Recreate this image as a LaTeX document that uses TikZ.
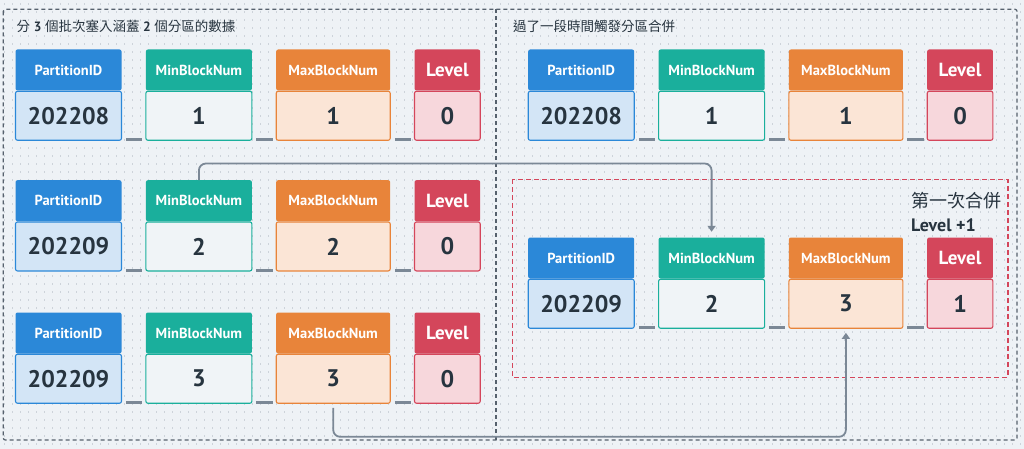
\documentclass[tikz,border=0pt]{standalone}
\usepackage{fontspec}
\setmainfont{PT Sans}
\newfontfamily\cjk{Noto Sans CJK TC}
\usetikzlibrary{arrows.meta}
\definecolor{bg}{HTML}{EEF2F6}
\definecolor{dotc}{HTML}{CDD3DA}
\definecolor{txt}{HTML}{27343F}
\definecolor{lgray}{HTML}{7B8896}
\definecolor{dgray}{HTML}{56616D}
\definecolor{bmain}{HTML}{2B88D8}\definecolor{blight}{HTML}{D3E5F6}
\definecolor{tmain}{HTML}{1AAF9C}\definecolor{tlight}{HTML}{F0F4F7}
\definecolor{omain}{HTML}{E8843A}\definecolor{olight}{HTML}{FBE5D6}
\definecolor{rmain}{HTML}{D4465B}\definecolor{rlight}{HTML}{F7D7DC}
\tikzset{
  hdr/.style={fill=#1main, minimum height=41pt, inner sep=0pt, rounded corners=2pt, text=white,
    font=\bfseries\fontsize{14.5}{16}\selectfont},
  val/.style={fill=#1light, draw=#1main, line width=1.1pt, minimum height=49pt, inner sep=0pt,
    rounded corners=2pt, text=txt, font=\bfseries\fontsize{24}{28}\selectfont},
  sep/.style={lgray, line width=3pt},
  flow/.style={lgray, line width=1.8pt, rounded corners=7pt, -{Triangle[length=6pt,width=8pt]}},
  frame/.style={dgray, line width=1.2pt, dash pattern=on 4pt off 3pt},
  redframe/.style={rmain, line width=1.6pt, dash pattern=on 5pt off 3pt}
}
\newcommand\cellpair[7]{%
  \node[hdr=#5, minimum width=#4pt, anchor=north west] (#1h) at (#2,#3) {#6};
  \node[val=#5, minimum width=#4pt, anchor=north] (#1v) at (#1h.south) {#7};
}
\newcommand\rowcells[8]{% #1 prefix, #2 xoff, #3 ytop, #4 pid, #5 min, #6 max, #7 level
  \cellpair{#1p}{15.3+#2}{#3}{106}{b}{PartitionID}{#4}
  \cellpair{#1n}{145.7+#2}{#3}{106}{t}{MinBlockNum}{#5}
  \cellpair{#1x}{276+#2}{#3}{114}{o}{MaxBlockNum}{#6}
  \cellpair{#1l}{414.3+#2}{#3}{65.7}{r}{\fontsize{19}{21}\selectfont Level}{#7}
  \draw[sep] ([xshift=4pt,yshift=1.5pt]#1pv.south east) -- ([xshift=-3pt,yshift=1.5pt]#1nv.south west);
  \draw[sep] ([xshift=4pt,yshift=1.5pt]#1nv.south east) -- ([xshift=-3pt,yshift=1.5pt]#1xv.south west);
  \draw[sep] ([xshift=4pt,yshift=1.5pt]#1xv.south east) -- ([xshift=-3pt,yshift=1.5pt]#1lv.south west);
}
\begin{document}
\begin{tikzpicture}[x=1pt,y=-1pt]
\fill[bg] (0,0) rectangle (1024,449);
\useasboundingbox (0,0) rectangle (1024,449);
\foreach \yy in {4,12,...,444}
  \draw[dotc, line width=1.3pt, dash pattern=on 1.3pt off 6.7pt] (4,\yy) -- (1024,\yy);
% frames
\draw[frame, rounded corners=2pt] (3.3,9.3) rectangle (1017,440);
\draw[frame] (496,9.3) -- (496,440);
\draw[redframe] (512.3,179.3) rectangle (1007.7,377.3);
% titles
\node[anchor=west, text=txt, inner sep=0pt, font=\fontsize{13.5}{15}\selectfont] (t1) at (16.5,26)
  {{\cjk 分} \textbf{3} {\cjk 個批次塞入涵蓋} \textbf{2} {\cjk 個分區的數據}};
\node[anchor=west, text=txt, inner sep=0pt, font=\fontsize{13.5}{15}\selectfont] (t2) at (513,26)
  {\cjk 過了一段時間觸發分區合併};
\node[anchor=east, text=txt, inner sep=0pt, font=\cjk\fontsize{18}{20}\selectfont] (t3) at (1001.5,201)
  {第一次合併};
\node[anchor=west, text=txt, inner sep=0pt, font=\bfseries\fontsize{18}{20}\selectfont] (t4) at (911,225.5)
  {Level +1};
% rows
\rowcells{a}{0}{49.3}{202208}{1}{1}{0}{}
\rowcells{b}{0}{180}{202209}{2}{2}{0}{}
\rowcells{c}{0}{312.3}{202209}{3}{3}{0}{}
\rowcells{d}{512.7}{49.3}{202208}{1}{1}{0}{}
\rowcells{m}{512.7}{237.3}{202209}{2}{3}{1}{}
% connectors
\draw[flow] (bnh.north) -- ++(0,-16.5) -| ([yshift=5.5pt]mnh.north);
\draw[flow] ([yshift=-4pt]cxv.south) -- ++(0,29) -| ([yshift=-4pt]mxv.south);
\end{tikzpicture}
\end{document}
